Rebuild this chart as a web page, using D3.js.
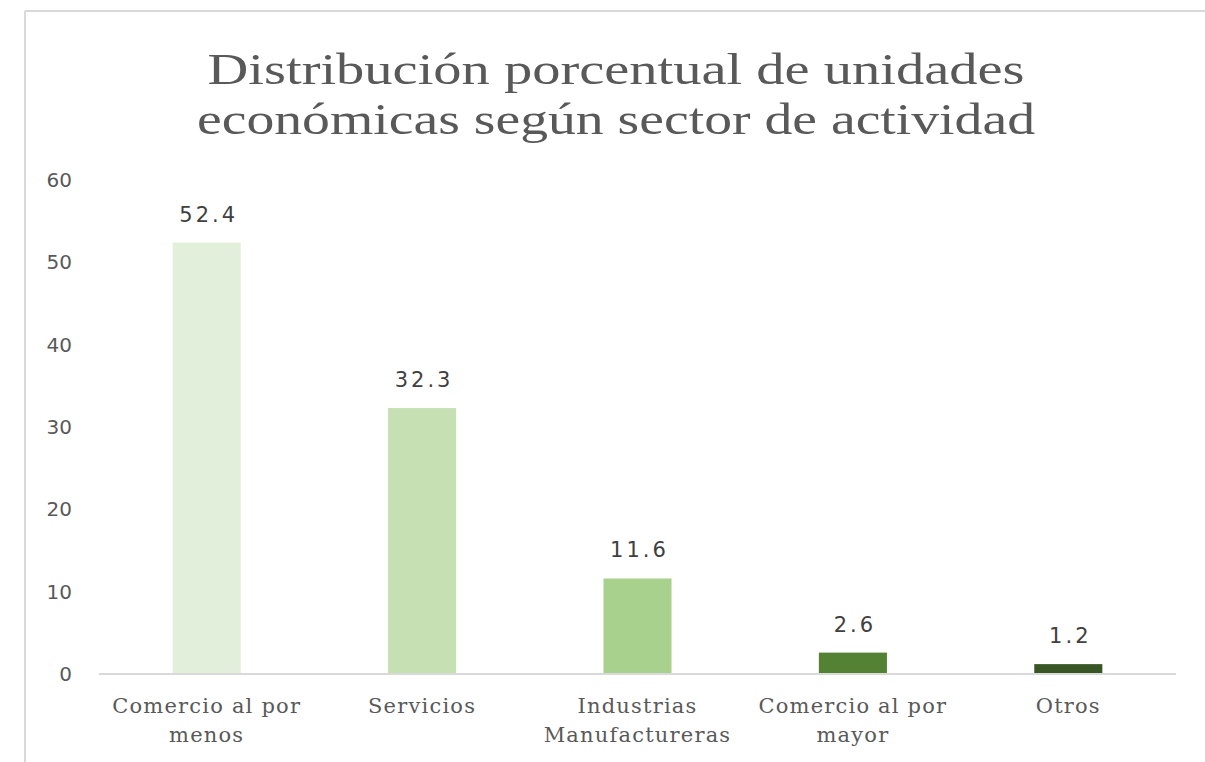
<!DOCTYPE html>
<html>
<head>
<meta charset="utf-8">
<script src="https://cdn.jsdelivr.net/npm/d3@7"></script>
<style>
  body { margin: 0; background: #fff; }
</style>
</head>
<body>
<div id="chart"></div>
<script>
let categories = [['Comercio al por', 'menos'], ['Servicios'], ['Industrias', 'Manufactureras'], ['Comercio al por', 'mayor'], ['Otros']];
let values = [52.4, 32.3, 11.6, 2.6, 1.2];
let colors = ['#e2efda', '#c6e0b4', '#a9d18e', '#548235', '#375623'];
let yTicks = [0, 10, 20, 30, 40, 50, 60];
let titleLines = ['Distribución porcentual de unidades', 'económicas según sector de actividad'];

let width = 1205,
    height = 762;

let svg = d3.select('#chart').append('svg')
    .attr('width', width)
    .attr('height', height);

// chart frame (only top and left edges show)
svg.append('line').attr('x1', 25).attr('x2', width).attr('y1', 11).attr('y2', 11)
    .style('stroke', '#d9d9d9').style('stroke-width', 2);
svg.append('line').attr('x1', 25).attr('x2', 25).attr('y1', 11).attr('y2', height)
    .style('stroke', '#d9d9d9').style('stroke-width', 2);

let xScale = d3.scaleBand()
    .domain(d3.range(values.length))
    .range([99, 1176])
    .paddingInner(0.684)
    .paddingOuter(0.342);

let yScale = d3.scaleLinear()
    .domain([0, 60])
    .range([674, 180]);

// title, one text per line
svg.append('g').selectAll('text')
    .data(titleLines)
    .enter().append('text')
    .attr('x', 616)
    .attr('y', (d, i) => 84 + i * 50)
    .attr('text-anchor', 'middle')
    .attr('textLength', (d, i) => i == 0 ? 817 : 838)
    .attr('lengthAdjust', 'spacingAndGlyphs')
    .style('font-family', '"Liberation Serif", serif')
    .style('font-size', '44px')
    .style('fill', '#595959')
    .text(d => d);

// y axis labels
svg.append('g').selectAll('text')
    .data(yTicks)
    .enter().append('text')
    .attr('x', 72)
    .attr('y', d => yScale(d))
    .attr('dy', '0.35em')
    .attr('text-anchor', 'end')
    .style('font-family', '"DejaVu Sans", sans-serif')
    .style('font-size', '20px')
    .style('fill', '#595959')
    .text(d => d);

// bars
svg.append('g').selectAll('rect')
    .data(values)
    .enter().append('rect')
    .attr('x', (d, i) => xScale(i))
    .attr('y', d => yScale(d))
    .attr('width', xScale.bandwidth())
    .attr('height', d => yScale(0) - yScale(d))
    .style('fill', (d, i) => colors[i]);

// baseline
svg.append('line')
    .attr('x1', 99).attr('x2', 1176)
    .attr('y1', yScale(0)).attr('y2', yScale(0))
    .style('stroke', '#d9d9d9').style('stroke-width', 2);

// value labels
svg.append('g').selectAll('text')
    .data(values)
    .enter().append('text')
    .attr('x', (d, i) => xScale(i) + xScale.bandwidth() / 2 + 2)
    .attr('y', d => yScale(d) - 21)
    .attr('text-anchor', 'middle')
    .style('font-family', '"DejaVu Sans", sans-serif')
    .style('font-size', '21px')
    .style('letter-spacing', '3px')
    .style('fill', '#404040')
    .text(d => d.toFixed(1));

// category labels
let cat = svg.append('g').selectAll('text')
    .data(categories)
    .enter().append('text')
    .attr('text-anchor', 'middle')
    .style('font-family', '"DejaVu Serif", serif')
    .style('font-size', '21px')
    .style('letter-spacing', '1.2px')
    .style('fill', '#595959');
cat.selectAll('tspan')
    .data((d, i) => d.map(s => ({ s: s, i: i })))
    .enter().append('tspan')
    .attr('x', d => xScale(d.i) + xScale.bandwidth() / 2)
    .attr('y', (d, j) => 713 + j * 29)
    .text(d => d.s);
</script>
</body>
</html>
